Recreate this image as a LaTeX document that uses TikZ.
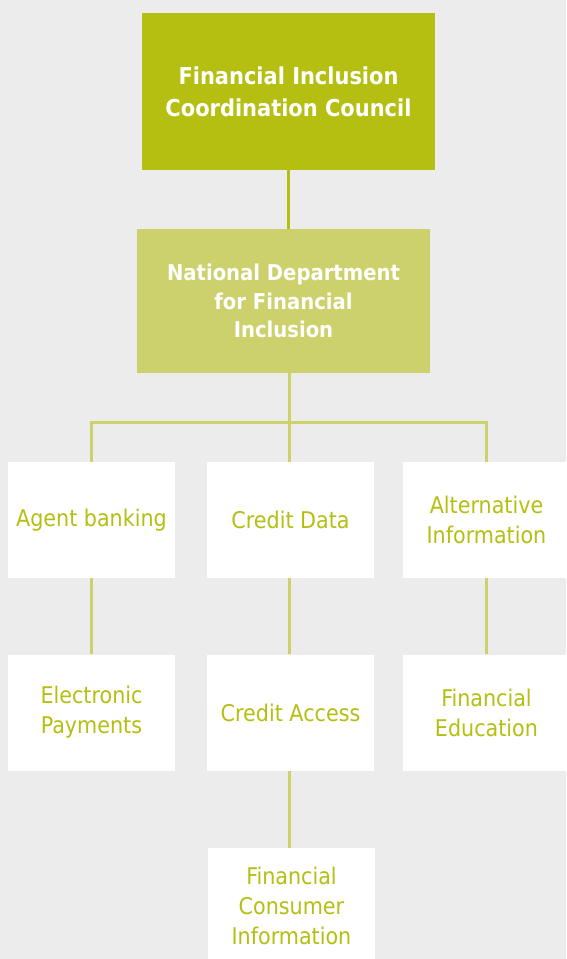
\documentclass[tikz,border=0pt]{standalone}
\usepackage{fontspec}
\setmainfont{DejaVu Sans Condensed}
\definecolor{limeDark}{RGB}{181,191,18}
\definecolor{limeLight}{RGB}{205,209,107}
\definecolor{paneGrey}{RGB}{236,236,236}
\begin{document}
\begin{tikzpicture}[x=1pt, y=-1pt,
    headStyle/.style={rectangle, fill=limeDark, text=white, font=\bfseries\fontsize{23.3}{32}\selectfont, align=center, minimum width=293pt, minimum height=157pt, inner sep=0pt},
    deptStyle/.style={rectangle, fill=limeLight, text=white, font=\bfseries\fontsize{21.8}{28.5}\selectfont, align=center, minimum width=293pt, minimum height=144pt, inner sep=0pt},
    taskStyle/.style={rectangle, fill=white, text=limeDark, font=\fontsize{23}{30}\selectfont, align=center, minimum width=167pt, minimum height=116pt, inner sep=0pt},
    linkStyle/.style={draw=limeLight, line width=3pt}]
    \fill[paneGrey] (0,0) rectangle (566,959);
    \useasboundingbox (0,0) rectangle (566,959);

    \node[headStyle] (council) at (288.5, 91.5) {Financial Inclusion\\Coordination Council};
    \node[deptStyle] (dept)    at (283.5, 301)  {National Department\\for Financial\\Inclusion};

    \node[taskStyle] (agent)   at ( 91.5, 520) {Agent banking};
    \node[taskStyle] (cdata)   at (290.5, 520) {Credit Data};
    \node[taskStyle] (altinfo) at (486.5, 520) {Alternative\\Information};

    \node[taskStyle] (epay)    at ( 91.5, 712.5) {Electronic\\Payments};
    \node[taskStyle] (caccess) at (290.5, 712.5) {Credit Access};
    \node[taskStyle] (fedu)    at (486.5, 712.5) {Financial\\Education};

    \node[taskStyle] (fcinfo)  at (291.5, 906) {Financial\\Consumer\\Information};

    \coordinate (bus) at (289, 422);

    \draw[linkStyle, draw=limeDark] (council.south) -- (council.south |- dept.north);
    \draw[linkStyle] (bus |- dept.south) -- (bus);
    \draw[linkStyle] (agent.north) |- (bus) -| (altinfo.north);
    \draw[linkStyle] (bus) -- (bus |- cdata.north);

    \draw[linkStyle] (agent.south) -- (epay.north);
    \draw[linkStyle] (bus |- cdata.south) -- (bus |- caccess.north);
    \draw[linkStyle] (altinfo.south) -- (fedu.north);

    \draw[linkStyle] (bus |- caccess.south) -- (bus |- fcinfo.north);
\end{tikzpicture}
\end{document}
